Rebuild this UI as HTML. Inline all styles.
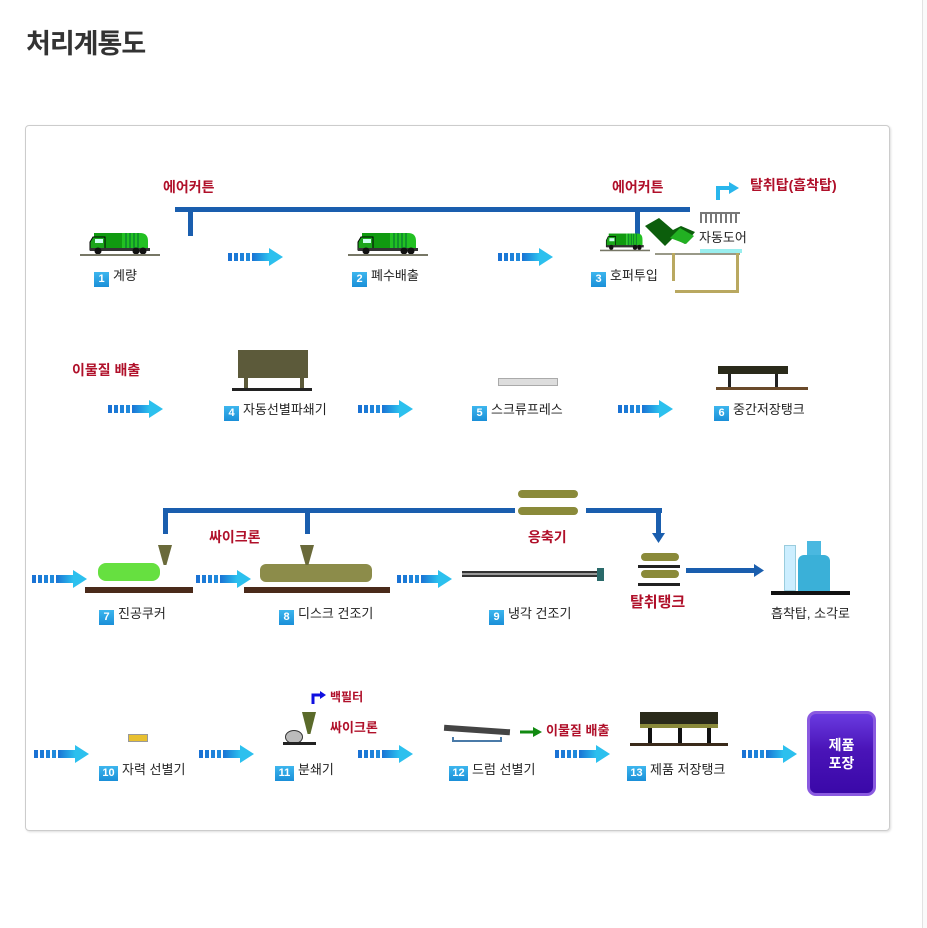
<!DOCTYPE html>
<html><head><meta charset="utf-8"><style>
*{margin:0;padding:0;box-sizing:border-box}
body{width:927px;height:928px;background:#fff;position:relative;overflow:hidden;font-family:"Liberation Sans","Noto Sans CJK KR",sans-serif}
.a{position:absolute}
.t{position:absolute;font-size:13px;color:#222;white-space:nowrap;line-height:16px}
.b{display:inline-block;width:15px;height:15px;background:linear-gradient(#3db6ee,#1a8fd8);color:#fff;font-weight:bold;font-size:11px;text-align:center;line-height:15px;margin-right:4px;vertical-align:-2px}
.b2{width:19px}
.r{position:absolute;color:#b0102a;font-weight:bold;font-size:14px;white-space:nowrap;line-height:16px}
.ln{position:absolute;background:#1a5eae}
</style></head><body>
<div class="a" style="left:922px;top:0;width:5px;height:928px;border-left:1px solid #e2e2e2;background:#fafafa"></div>
<div class="a" style="left:26px;top:22px;font-size:27px;font-weight:bold;color:#333;letter-spacing:-1px">처리계통도</div>
<div class="a" style="left:25px;top:125px;width:865px;height:706px;border:1px solid #ccc;border-radius:4px;box-shadow:1px 1px 2px #ddd"></div>

<svg width="0" height="0" style="position:absolute"><defs>
<linearGradient id="g" x1="0" x2="1"><stop offset="0" stop-color="#1a72d4"/><stop offset="1" stop-color="#2cc4f0"/></linearGradient>
<symbol id="ar" viewBox="0 0 55 18"><rect x="0" y="5" width="4" height="8" fill="#1a72d4"/><rect x="6" y="5" width="4" height="8" fill="#1c7ad6"/><rect x="12" y="5" width="4" height="8" fill="#1e82da"/><rect x="18" y="5" width="4" height="8" fill="#208adc"/><rect x="24" y="5" width="18" height="8" fill="url(#g)"/><polygon points="41,0 55,9 41,18" fill="#2cc0ee"/></symbol>
<symbol id="tr" viewBox="0 0 80 26"><rect x="14" y="2" width="28" height="16" fill="#109a10"/><path d="M42 2h18q8 0 8 8v8H42z" fill="#22c022"/><g stroke="#063" stroke-width="1"><line x1="46" y1="2" x2="46" y2="18"/><line x1="50" y1="2" x2="50" y2="18"/><line x1="54" y1="2" x2="54" y2="18"/><line x1="58" y1="2" x2="58" y2="18"/></g><path d="M13 6h12v13H10v-8z" fill="#1ba51b" stroke="#000" stroke-width="1"/><rect x="15" y="8" width="8" height="4" fill="#cfe"/><rect x="10" y="17" width="60" height="3" fill="#333"/><circle cx="18" cy="20" r="3.5" fill="#111"/><circle cx="56" cy="20" r="3.5" fill="#111"/><circle cx="63" cy="20" r="3.5" fill="#111"/><rect x="0" y="23" width="80" height="2" fill="#776"/></symbol>
</defs></svg>

<!-- row1 -->
<div class="r" style="left:163px;top:179px">에어커튼</div>
<div class="r" style="left:612px;top:179px">에어커튼</div>
<div class="ln" style="left:175px;top:207px;width:515px;height:5px"></div>
<div class="ln" style="left:188px;top:207px;width:5px;height:29px"></div>
<div class="ln" style="left:635px;top:207px;width:5px;height:29px"></div>
<svg class="a" style="left:80px;top:231px" width="80" height="26"><use href="#tr"/></svg>
<svg class="a" style="left:348px;top:231px" width="80" height="26"><use href="#tr"/></svg>
<svg class="a" style="left:600px;top:232px" width="50" height="20" viewBox="0 0 80 26" preserveAspectRatio="none"><use href="#tr"/></svg>
<svg class="a" style="left:640px;top:218px" width="60" height="30"><path d="M5 8l14-8 14 12 8-4 14 6-10 12-12-6-8 8z" fill="#0c5e0c"/><path d="M30 20l10-10 14 8-8 8z" fill="#22b022"/></svg>
<div class="a" style="left:700px;top:212px;width:40px;height:11px;background:repeating-linear-gradient(90deg,#777 0 2px,#fff 2px 5px);border-top:2px solid #777"></div>
<div class="t" style="left:699px;top:230px">자동도어</div>
<div class="a" style="left:700px;top:249px;width:42px;height:4px;background:#9ee"></div>
<div class="a" style="left:655px;top:253px;width:85px;height:2px;background:#998"></div>
<div class="a" style="left:672px;top:253px;width:3px;height:28px;background:#b9a860"></div>
<div class="a" style="left:736px;top:253px;width:3px;height:40px;background:#b9a860"></div>
<div class="a" style="left:675px;top:290px;width:62px;height:3px;background:#b9a860"></div>
<svg class="a" style="left:715px;top:178px" width="30" height="22"><path d="M3 22V10h12" fill="none" stroke="#29b6ec" stroke-width="4"/><polygon points="14,4 24,10 14,16" fill="#29b6ec"/></svg>
<div class="r" style="left:750px;top:177px">탈취탑(흡착탑)</div>
<svg class="a" style="left:228px;top:248px" width="55" height="18"><use href="#ar"/></svg>
<svg class="a" style="left:498px;top:248px" width="55" height="18"><use href="#ar"/></svg>
<div class="t" style="left:94px;top:268px"><span class="b">1</span>계량</div>
<div class="t" style="left:352px;top:268px"><span class="b">2</span>폐수배출</div>
<div class="t" style="left:591px;top:268px"><span class="b">3</span>호퍼투입</div>

<!-- row2 -->
<div class="r" style="left:72px;top:362px">이물질 배출</div>
<div class="a" style="left:238px;top:350px;width:70px;height:28px;background:#5c5a3a"></div>
<div class="a" style="left:244px;top:378px;width:4px;height:10px;background:#5c5a3a"></div>
<div class="a" style="left:300px;top:378px;width:4px;height:10px;background:#5c5a3a"></div>
<div class="a" style="left:232px;top:388px;width:80px;height:3px;background:#222"></div>
<div class="a" style="left:498px;top:378px;width:60px;height:8px;background:#ddd;border:1px solid #aaa"></div>
<div class="a" style="left:718px;top:366px;width:70px;height:8px;background:#2a2a1a"></div>
<div class="a" style="left:728px;top:374px;width:3px;height:14px;background:#222"></div>
<div class="a" style="left:775px;top:374px;width:3px;height:14px;background:#222"></div>
<div class="a" style="left:716px;top:387px;width:92px;height:3px;background:#6a4a2a"></div>
<svg class="a" style="left:108px;top:400px" width="55" height="18"><use href="#ar"/></svg>
<svg class="a" style="left:358px;top:400px" width="55" height="18"><use href="#ar"/></svg>
<svg class="a" style="left:618px;top:400px" width="55" height="18"><use href="#ar"/></svg>
<div class="t" style="left:224px;top:402px"><span class="b">4</span>자동선별파쇄기</div>
<div class="t" style="left:472px;top:402px"><span class="b">5</span>스크류프레스</div>
<div class="t" style="left:714px;top:402px"><span class="b">6</span>중간저장탱크</div>

<!-- row3 -->
<div class="ln" style="left:163px;top:508px;width:352px;height:5px"></div>
<div class="ln" style="left:586px;top:508px;width:76px;height:5px"></div>
<div class="ln" style="left:163px;top:508px;width:5px;height:26px"></div>
<div class="ln" style="left:305px;top:508px;width:5px;height:26px"></div>
<div class="ln" style="left:656px;top:508px;width:5px;height:27px"></div>
<svg class="a" style="left:652px;top:533px" width="13" height="10"><polygon points="0,0 13,0 6.5,10" fill="#1a5eae"/></svg>
<div class="a" style="left:518px;top:490px;width:60px;height:8px;border-radius:4px;background:#8a8a3a"></div>
<div class="a" style="left:518px;top:507px;width:60px;height:8px;border-radius:4px;background:#8a8a3a"></div>
<div class="r" style="left:209px;top:529px">싸이크론</div>
<div class="r" style="left:528px;top:529px">응축기</div>
<div class="a" style="left:98px;top:563px;width:62px;height:18px;border-radius:8px;background:#66e040"></div>
<div class="a" style="left:158px;top:545px;width:14px;height:20px;background:#6a6a3a;clip-path:polygon(0 0,100% 0,60% 100%,40% 100%)"></div>
<div class="a" style="left:85px;top:587px;width:108px;height:6px;background:#4a2a1a"></div>
<div class="a" style="left:260px;top:564px;width:112px;height:18px;border-radius:6px;background:#8c8c4a"></div>
<div class="a" style="left:300px;top:545px;width:14px;height:20px;background:#6a6a3a;clip-path:polygon(0 0,100% 0,60% 100%,40% 100%)"></div>
<div class="a" style="left:244px;top:587px;width:146px;height:6px;background:#4a2a1a"></div>
<div class="a" style="left:462px;top:571px;width:140px;height:6px;background:#999;border-top:2px solid #333;border-bottom:2px solid #333"></div>
<div class="a" style="left:597px;top:568px;width:7px;height:13px;background:#2a6a6a"></div>
<div class="a" style="left:641px;top:553px;width:38px;height:8px;border-radius:4px;background:#8a8a3a"></div>
<div class="a" style="left:638px;top:565px;width:42px;height:3px;background:#222"></div>
<div class="a" style="left:641px;top:570px;width:38px;height:8px;border-radius:4px;background:#8a8a3a"></div>
<div class="a" style="left:638px;top:583px;width:42px;height:3px;background:#222"></div>
<div class="r" style="left:630px;top:595px;font-size:15px">탈취탱크</div>
<div class="ln" style="left:686px;top:568px;width:70px;height:5px"></div>
<svg class="a" style="left:754px;top:564px" width="10" height="13"><polygon points="0,0 10,6.5 0,13" fill="#1a5eae"/></svg>
<div class="a" style="left:784px;top:545px;width:12px;height:46px;background:#cef;border:1px solid #9cd"></div>
<div class="a" style="left:798px;top:555px;width:32px;height:36px;background:#3ab0d8;border-radius:6px 6px 0 0"></div>
<div class="a" style="left:807px;top:541px;width:14px;height:14px;background:#4ab8e0"></div>
<div class="a" style="left:771px;top:591px;width:79px;height:4px;background:#111"></div>
<svg class="a" style="left:32px;top:570px" width="55" height="18"><use href="#ar"/></svg>
<svg class="a" style="left:196px;top:570px" width="55" height="18"><use href="#ar"/></svg>
<svg class="a" style="left:397px;top:570px" width="55" height="18"><use href="#ar"/></svg>
<div class="t" style="left:99px;top:606px"><span class="b">7</span>진공쿠커</div>
<div class="t" style="left:279px;top:606px"><span class="b">8</span>디스크 건조기</div>
<div class="t" style="left:489px;top:606px"><span class="b">9</span>냉각 건조기</div>
<div class="t" style="left:771px;top:606px">흡착탑, 소각로</div>

<!-- row4 -->
<div class="a" style="left:128px;top:734px;width:20px;height:8px;background:#e8c030;border:1px solid #999"></div>
<svg class="a" style="left:310px;top:690px" width="16" height="14"><path d="M3 14V5h8" fill="none" stroke="#1010e0" stroke-width="3"/><polygon points="10,1 16,5 10,9" fill="#1010e0"/></svg>
<div class="r" style="left:330px;top:689px;font-size:12px">백필터</div>
<div class="a" style="left:302px;top:712px;width:14px;height:22px;background:#5a6a2a;clip-path:polygon(0 0,100% 0,60% 100%,40% 100%)"></div>
<div class="a" style="left:285px;top:730px;width:18px;height:14px;border-radius:50%;background:#bbb;border:1px solid #333"></div>
<div class="a" style="left:283px;top:742px;width:33px;height:3px;background:#222"></div>
<div class="r" style="left:330px;top:720px;font-size:13px">싸이크론</div>
<div class="a" style="left:444px;top:727px;width:66px;height:6px;background:#444;transform:rotate(4deg)"></div>
<div class="a" style="left:452px;top:737px;width:50px;height:5px;border:2px solid #4a7aa8;border-top:none"></div>
<svg class="a" style="left:520px;top:727px" width="22" height="10"><rect x="0" y="3.5" width="14" height="3" fill="#118a11"/><polygon points="13,0 22,5 13,10" fill="#118a11"/></svg>
<div class="r" style="left:546px;top:723px;font-size:13px">이물질 배출</div>
<div class="a" style="left:640px;top:712px;width:78px;height:12px;background:#2a2a1a"></div>
<div class="a" style="left:640px;top:724px;width:78px;height:4px;background:#8a8a3a"></div>
<div class="a" style="left:648px;top:728px;width:4px;height:15px;background:#111"></div>
<div class="a" style="left:678px;top:728px;width:4px;height:15px;background:#111"></div>
<div class="a" style="left:707px;top:728px;width:4px;height:15px;background:#111"></div>
<div class="a" style="left:630px;top:743px;width:98px;height:3px;background:#3a2a1a"></div>
<svg class="a" style="left:34px;top:745px" width="55" height="18"><use href="#ar"/></svg>
<svg class="a" style="left:199px;top:745px" width="55" height="18"><use href="#ar"/></svg>
<svg class="a" style="left:358px;top:745px" width="55" height="18"><use href="#ar"/></svg>
<svg class="a" style="left:555px;top:745px" width="55" height="18"><use href="#ar"/></svg>
<svg class="a" style="left:742px;top:745px" width="55" height="18"><use href="#ar"/></svg>
<div class="t" style="left:99px;top:762px"><span class="b b2">10</span>자력 선별기</div>
<div class="t" style="left:275px;top:762px"><span class="b b2">11</span>분쇄기</div>
<div class="t" style="left:449px;top:762px"><span class="b b2">12</span>드럼 선별기</div>
<div class="t" style="left:627px;top:762px"><span class="b b2">13</span>제품 저장탱크</div>
<div class="a" style="left:807px;top:711px;width:69px;height:85px;border-radius:9px;border:3px solid #8a5ae0;background:linear-gradient(#6a3ae0,#4a14b8 45%,#3a08a8);color:#fff;font-weight:bold;font-size:14px;text-align:center;padding-top:22px;line-height:18px">제품<br>포장</div>
</body></html>
